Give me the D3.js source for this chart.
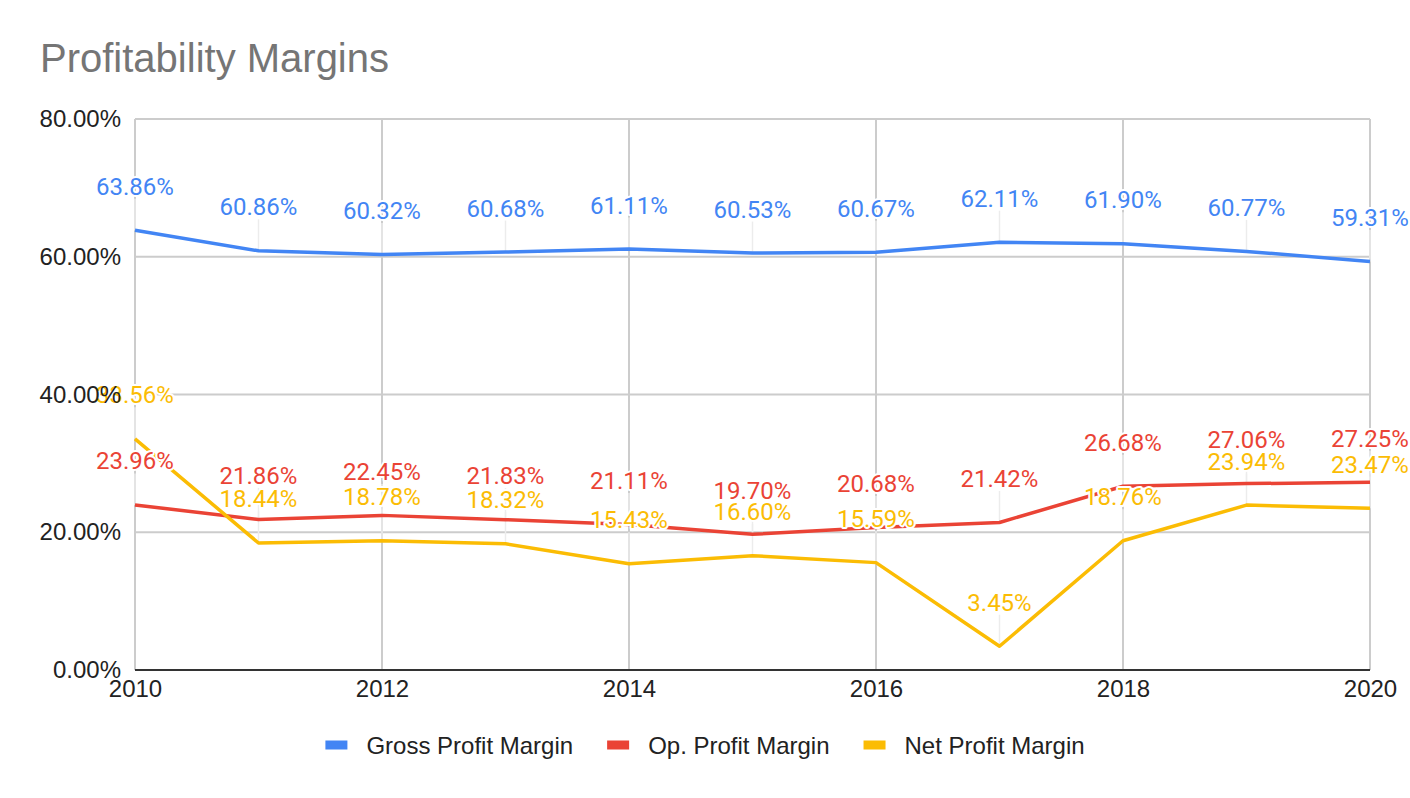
<!DOCTYPE html>
<html>
<head>
<meta charset="utf-8">
<script src="https://cdn.jsdelivr.net/npm/d3@7"></script>
<style>
  body { margin: 0; background: #fff; }
  svg { display: block; }
</style>
</head>
<body>
<script>
const w = 1410;
const h = 798;

const years = [2010, 2011, 2012, 2013, 2014, 2015, 2016, 2017, 2018, 2019, 2020];
const grossMargin = [63.86, 60.86, 60.32, 60.68, 61.11, 60.53, 60.67, 62.11, 61.90, 60.77, 59.31];
const opMargin = [23.96, 21.86, 22.45, 21.83, 21.11, 19.70, 20.68, 21.42, 26.68, 27.06, 27.25];
const netMargin = [33.56, 18.44, 18.78, 18.32, 15.43, 16.60, 15.59, 3.45, 18.76, 23.94, 23.47];
const seriesNames = ['Gross Profit Margin', 'Op. Profit Margin', 'Net Profit Margin'];
const seriesColors = ['#4285f4', '#ea4335', '#fbbc04'];
const yTicks = [0, 20, 40, 60, 80];
const xTicks = [2010, 2012, 2014, 2016, 2018, 2020];

const series = [grossMargin, opMargin, netMargin].map((vals, i) => ({
  name: seriesNames[i],
  color: seriesColors[i],
  points: vals.map((v, j) => ({ year: years[j], value: v }))
}));

const svg = d3.select('body')
  .append('svg')
  .attr('width', w)
  .attr('height', h);

const x = d3.scaleLinear().domain([2010, 2020]).range([135, 1370]);
const y = d3.scaleLinear().domain([0, 80]).range([670, 119]);

// title
svg.append('text')
  .text('Profitability Margins')
  .attr('x', 40)
  .attr('y', 72)
  .style('font-family', 'Liberation Sans, Arial, sans-serif')
  .style('font-size', '40px')
  .style('fill', '#757575');

// gridlines
svg.append('g')
  .selectAll('line.h')
  .data(yTicks.filter(d => d > 0))
  .enter()
  .append('line')
  .attr('x1', x(2010))
  .attr('x2', x(2020))
  .attr('y1', d => y(d))
  .attr('y2', d => y(d))
  .attr('stroke', '#cccccc')
  .attr('stroke-width', 2);

svg.append('g')
  .selectAll('line.v')
  .data(xTicks)
  .enter()
  .append('line')
  .attr('x1', d => x(d))
  .attr('x2', d => x(d))
  .attr('y1', y(80))
  .attr('y2', y(0))
  .attr('stroke', '#cccccc')
  .attr('stroke-width', 2);

// faint leader lines from points to labels
const labelGap = 35.5;
series.forEach(s => {
  svg.append('g')
    .selectAll('line')
    .data(s.points)
    .enter()
    .append('line')
    .attr('x1', d => x(d.year))
    .attr('x2', d => x(d.year))
    .attr('y1', d => y(d.value))
    .attr('y2', d => y(d.value) - labelGap + 4)
    .attr('stroke', '#ececec')
    .attr('stroke-width', 1.5);
});

// baseline
svg.append('line')
  .attr('x1', x(2010))
  .attr('x2', x(2020))
  .attr('y1', y(0))
  .attr('y2', y(0))
  .attr('stroke', '#333333')
  .attr('stroke-width', 2);

// lines
const line = d3.line()
  .x(d => x(d.year))
  .y(d => y(d.value));

series.forEach(s => {
  svg.append('path')
    .datum(s.points)
    .attr('d', line)
    .attr('fill', 'none')
    .attr('stroke', s.color)
    .attr('stroke-width', 3.5)
    .attr('stroke-linejoin', 'round');
});

// data labels
series.forEach(s => {
  svg.append('g')
    .selectAll('text')
    .data(s.points)
    .enter()
    .append('text')
    .text(d => d.value.toFixed(2) + '%')
    .attr('x', d => x(d.year))
    .attr('y', d => y(d.value) - labelGap)
    .attr('text-anchor', 'middle')
    .style('font-family', 'Roboto, sans-serif')
    .style('font-size', '24px')
    .style('fill', s.color)
    .style('stroke', '#fff')
    .style('stroke-width', 4)
    .style('stroke-linejoin', 'round')
    .style('paint-order', 'stroke');
});

// axis labels
const yAxis = d3.axisLeft(y)
  .tickValues(yTicks)
  .tickFormat(d => d.toFixed(2) + '%')
  .tickSize(0)
  .tickPadding(14);

svg.append('g')
  .attr('transform', `translate(${x(2010)},0)`)
  .call(yAxis)
  .call(g => g.select('.domain').remove())
  .selectAll('text')
  .style('font-family', 'Liberation Sans, Arial, sans-serif')
  .style('font-size', '24px')
  .style('fill', '#222');

const xAxis = d3.axisBottom(x)
  .tickValues(xTicks)
  .tickFormat(d3.format('d'))
  .tickSize(0)
  .tickPadding(10);

svg.append('g')
  .attr('transform', `translate(0,${y(0)})`)
  .call(xAxis)
  .call(g => g.select('.domain').remove())
  .selectAll('text')
  .style('font-family', 'Liberation Sans, Arial, sans-serif')
  .style('font-size', '24px')
  .style('fill', '#222');

// legend
const legend = svg.append('g');
let cursor = 0;
series.forEach((s, i) => {
  const item = legend.append('g').attr('transform', `translate(${cursor},0)`);
  item.append('rect')
    .attr('x', 0)
    .attr('y', -4.5)
    .attr('width', 22)
    .attr('height', 9)
    .attr('fill', s.color);
  const t = item.append('text')
    .text(s.name)
    .attr('x', 41)
    .attr('y', 8.5)
    .style('font-family', 'Liberation Sans, Arial, sans-serif')
    .style('font-size', '24px')
    .style('fill', '#222');
  cursor += 41 + t.node().getComputedTextLength() + (i < series.length - 1 ? 34 : 0);
});
legend.attr('transform', `translate(${(w - cursor) / 2},745)`);
</script>
</body>
</html>
